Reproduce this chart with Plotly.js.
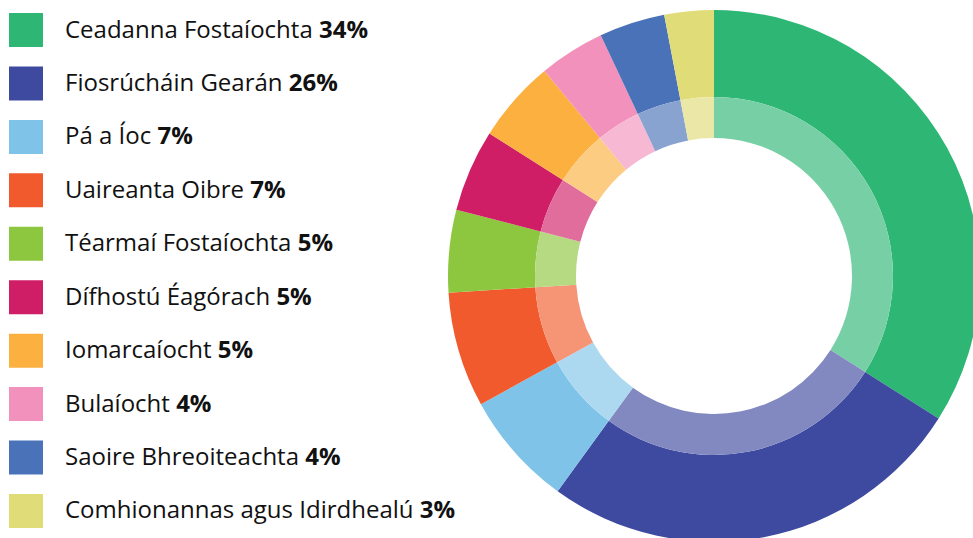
<!DOCTYPE html>
<html>
<head>
<meta charset="utf-8">
<script src="https://cdn.plot.ly/plotly-3.0.1.min.js"></script>
<style>html,body{margin:0;padding:0;background:#fff;overflow:hidden;}#chart{width:1000px;height:560px;}</style>
</head>
<body>
<div id="chart"></div>
<script>
const categories = ["Ceadanna Fostaíochta","Fiosrúcháin Gearán","Pá a Íoc","Uaireanta Oibre","Téarmaí Fostaíochta","Dífhostú Éagórach","Iomarcaíocht","Bulaíocht","Saoire Bhreoiteachta","Comhionannas agus Idirdhealú"];
const percents = [34, 26, 7, 7, 5, 5, 5, 4, 4, 3];
const colors = ["#2eb774","#3e4a9f","#7fc4e8","#f15a2c","#8dc63f","#cf1e66","#fbb040","#f291bc","#4a72b8","#e0dc78"];

function lighten(hex, a){
  const r=parseInt(hex.slice(1,3),16), g=parseInt(hex.slice(3,5),16), b=parseInt(hex.slice(5,7),16);
  const f=v=>Math.round(255-a*(255-v));
  return "rgb("+f(r)+","+f(g)+","+f(b)+")";
}
const innerColors = colors.map(c=>lighten(c,0.65));

// canvas larger than the 973x538 window; the overflow is cropped like the reference
const W=1000,H=560;
const cx=714, cy=276, R=266, Rmid=179, Rhole=138;
function dom(r){return {x:[(cx-r)/W,(cx+r)/W], y:[(H-cy-r)/H,(H-cy+r)/H]};}

const outer = {type:"pie", values:percents, labels:categories, sort:false, direction:"clockwise", rotation:0,
  marker:{colors:colors, line:{width:0}}, textinfo:"none", hoverinfo:"label+percent", hole:Rmid/R, domain:dom(R), showlegend:false};
const inner = {type:"pie", values:percents, labels:categories, sort:false, direction:"clockwise", rotation:0,
  marker:{colors:innerColors, line:{width:0}}, textinfo:"none", hoverinfo:"label+percent", hole:Rhole/Rmid, domain:dom(Rmid), showlegend:false};

const idx = categories.map((_,i)=>i);
const legendSquares = {type:"scatter", mode:"markers", x:categories.map(()=>26), y:idx,
  marker:{symbol:"square", size:34, color:colors, line:{width:0}}, hoverinfo:"skip", showlegend:false, xaxis:"x", yaxis:"y"};

const annotations = categories.map((c,i)=>({
  x:63, y:i, xref:"x", yref:"y", xanchor:"left", yanchor:"middle", showarrow:false, yshift:2,
  text: c + " <b>" + percents[i] + "%</b>",
  font:{family:"Open Sans", size:24, color:"#111"}
}));

const layout = {
  width:W, height:H, margin:{l:0,r:0,t:0,b:0}, paper_bgcolor:"#fff", plot_bgcolor:"rgba(0,0,0,0)",
  showlegend:false,
  xaxis:{range:[0,W], domain:[0,1], visible:false, fixedrange:true},
  yaxis:{range:[(H-30)/53.44, -30/53.44], domain:[0,1], visible:false, fixedrange:true},
  annotations:annotations
};
Plotly.newPlot("chart",[outer,inner,legendSquares],layout,{displayModeBar:false,staticPlot:true});
</script>
</body>
</html>
